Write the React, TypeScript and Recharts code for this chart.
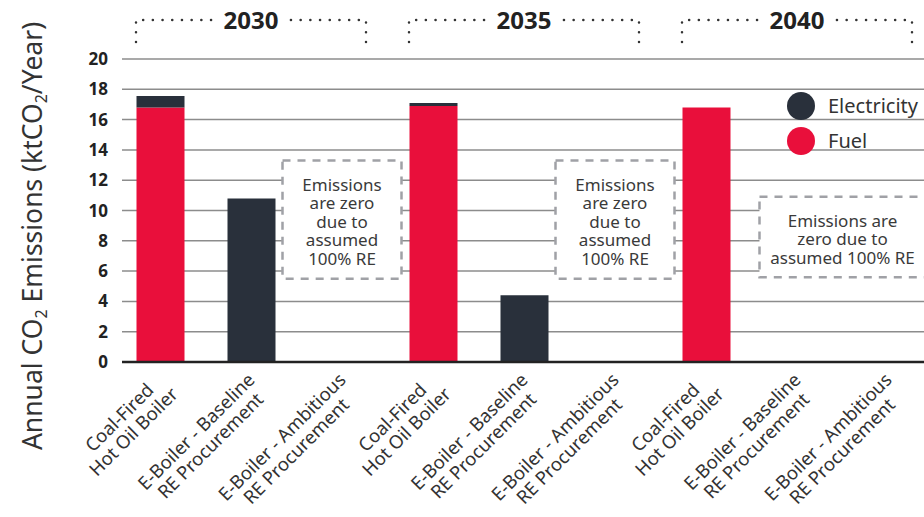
import React from "react";
import {
  BarChart,
  Bar,
  XAxis,
  YAxis,
  CartesianGrid,
  Legend,
  ReferenceArea,
  Label,
} from "recharts";

// categories (unique ids) and their two-line tick labels
const categories = [
  "2030-coal", "2030-base", "2030-amb",
  "2035-coal", "2035-base", "2035-amb",
  "2040-coal", "2040-base", "2040-amb",
];
const categoryLabels = [
  ["Coal-Fired", "Hot Oil Boiler"],
  ["E-Boiler - Baseline", "RE Procurement"],
  ["E-Boiler - Ambitious", "RE Procurement"],
  ["Coal-Fired", "Hot Oil Boiler"],
  ["E-Boiler - Baseline", "RE Procurement"],
  ["E-Boiler - Ambitious", "RE Procurement"],
  ["Coal-Fired", "Hot Oil Boiler"],
  ["E-Boiler - Baseline", "RE Procurement"],
  ["E-Boiler - Ambitious", "RE Procurement"],
];

// ktCO2 / year
const fuel = [16.8, 0, 0, 16.9, 0, 0, 16.8, 0, 0];
const electricity = [0.75, 10.8, 0, 0.2, 4.4, 0, 0, 0, 0];

const yTicks = [0, 2, 4, 6, 8, 10, 12, 14, 16, 18, 20];

// year brackets above the plot
const years = ["2030", "2035", "2040"];
const yearFirst = ["2030-coal", "2035-coal", "2040-coal"];
const yearLast = ["2030-amb", "2035-amb", "2040-amb"];

// "emissions are zero" notes
const noteFrom = ["2030-amb", "2035-amb", "2040-base"];
const noteTo = ["2030-amb", "2035-amb", "2040-amb"];
const noteLow = [5.5, 5.5, 5.6];
const noteHigh = [13.3, 13.3, 10.9];
const noteLines = [
  ["Emissions", "are zero", "due to", "assumed", "100% RE"],
  ["Emissions", "are zero", "due to", "assumed", "100% RE"],
  ["Emissions are", "zero due to", "assumed 100% RE"],
];

const data = categories.map((id, i) => ({
  id,
  fuel: fuel[i],
  electricity: electricity[i],
}));

const FUEL = "#E90F3B";
const ELEC = "#29303B";
const FONT = '"Noto Sans", "Open Sans", sans-serif';
const TICK_SIZE = 18.5;
const TICK_FONT = `400 ${TICK_SIZE}px "Noto Sans"`;
const YEAR_FONT = '700 24px "Noto Sans"';
const BAR_SIZE = 48;

let measureCtx: CanvasRenderingContext2D | null = null;
function textWidth(text: string, font: string) {
  if (!measureCtx) measureCtx = document.createElement("canvas").getContext("2d");
  if (!measureCtx) return text.length * 8;
  measureCtx.font = font;
  return measureCtx.measureText(text).width;
}

function CategoryTick(props: any) {
  const { x, y, payload } = props;
  const lines = categoryLabels[categories.indexOf(payload.value)] || [];
  const widest = Math.max(...lines.map((l) => textWidth(l, TICK_FONT)));
  const cx = -10 - widest / 2;
  return (
    <g transform={`translate(${x},${y}) rotate(-45)`}>
      <text
        x={cx}
        y={17}
        textAnchor="middle"
        fill="#333"
        fontSize={TICK_SIZE}
        fontFamily={FONT}
      >
        {lines.map((l, i) => (
          <tspan key={i} x={cx} dy={i === 0 ? 0 : 20}>
            {l}
          </tspan>
        ))}
      </text>
    </g>
  );
}

function YearBracket(props: any) {
  const { x, y, width, year } = props;
  const inset = (width / 3 - BAR_SIZE) / 2;
  const left = x + inset;
  const right = x + width - inset;
  const top = y - 39;
  const bottom = y - 17;
  const mid = (left + right) / 2;
  const tw = textWidth(year, YEAR_FONT);
  const dots = {
    fill: "none",
    stroke: "#333",
    strokeWidth: 2.5,
    strokeLinecap: "round" as const,
    strokeDasharray: "0.1 9.6",
  };
  return (
    <g>
      <path d={`M${left},${bottom} V${top} H${mid - tw / 2 - 7}`} {...dots} />
      <path d={`M${right},${bottom} V${top} H${mid + tw / 2 + 7}`} {...dots} />
      <text
        x={mid}
        y={top + 8.5}
        textAnchor="middle"
        fontSize={24}
        fontWeight={700}
        fill="#222"
        fontFamily={FONT}
      >
        {year}
      </text>
    </g>
  );
}

function NoteBox(props: any) {
  const { x, y, width, height, lines, single } = props;
  const grow = single ? 14 : -8;
  const left = x - grow;
  const w = width + grow * 2;
  const mid = left + w / 2;
  return (
    <g>
      <rect
        x={left}
        y={y}
        width={w}
        height={height}
        fill="#fff"
        stroke="#a0a1a6"
        strokeWidth={2.5}
        strokeDasharray="8 7"
      />
      <text
        x={mid}
        y={y + 30}
        textAnchor="middle"
        fontSize={17}
        fill="#3a3a3a"
        fontFamily={FONT}
      >
        {lines.map((l: string, i: number) => (
          <tspan key={i} x={mid} dy={i === 0 ? 0 : 18.5}>
            {l}
          </tspan>
        ))}
      </text>
    </g>
  );
}

function YTitle() {
  return (
    <text
      x={42}
      y={236}
      transform="rotate(-90, 42, 236)"
      textAnchor="middle"
      fontSize={26.5}
      fill="#333"
      fontFamily={FONT}
    >
      Annual CO
      <tspan fontSize={16} dy={5}>2</tspan>
      <tspan dy={-5}> Emissions (ktCO</tspan>
      <tspan fontSize={16} dy={5}>2</tspan>
      <tspan dy={-5}>/Year)</tspan>
    </text>
  );
}

function LegendContent(props: any) {
  const items = props.payload || [];
  return (
    <div style={{ fontFamily: FONT, fontSize: 20, color: "#333" }}>
      {items.map((it: any) => (
        <div
          key={it.value}
          style={{ display: "flex", alignItems: "center", height: 35 }}
        >
          <span
            style={{
              width: 28,
              height: 28,
              borderRadius: 14,
              background: it.color,
              marginRight: 13,
            }}
          />
          {it.value}
        </div>
      ))}
    </div>
  );
}

export default function App() {
  return (
    <div
      style={{
        position: "absolute",
        left: 0,
        top: 0,
        width: 924,
        height: 517,
        overflow: "hidden",
        background: "#fff",
      }}
    >
      <BarChart
        width={940}
        height={517}
        data={data}
        margin={{ top: 59, right: 6.5, bottom: 5, left: 0 }}
      >
        <CartesianGrid vertical={false} stroke="#8c8c8c" strokeWidth={1.5} />
        <XAxis
          dataKey="id"
          interval={0}
          height={150}
          padding={{ left: -7.5, right: 0 }}
          tickLine={false}
          tickSize={0}
          tickMargin={0}
          tick={<CategoryTick />}
          axisLine={{ stroke: "#222", strokeWidth: 2.5 }}
        />
        <YAxis
          width={122}
          domain={[0, 20]}
          ticks={yTicks}
          interval={0}
          axisLine={false}
          tickLine={false}
          tickSize={0}
          tickMargin={14}
          tick={{ fill: "#222", fontSize: 17, fontWeight: 700, fontFamily: FONT }}
        >
          <Label content={<YTitle />} />
        </YAxis>
        {years.map((yr, i) => (
          <ReferenceArea
            key={yr}
            x1={yearFirst[i]}
            x2={yearLast[i]}
            y1={0}
            y2={20}
            ifOverflow="visible"
            shape={(p: any) => <YearBracket {...p} year={yr} />}
          />
        ))}
        {noteLines.map((lines, i) => (
          <ReferenceArea
            key={i}
            x1={noteFrom[i]}
            x2={noteTo[i]}
            y1={noteLow[i]}
            y2={noteHigh[i]}
            ifOverflow="visible"
            shape={(p: any) => (
              <NoteBox {...p} lines={lines} single={noteFrom[i] === noteTo[i]} />
            )}
          />
        ))}
        <Bar
          dataKey="fuel"
          name="Fuel"
          stackId="a"
          fill={FUEL}
          barSize={BAR_SIZE}
          isAnimationActive={false}
        />
        <Bar
          dataKey="electricity"
          name="Electricity"
          stackId="a"
          fill={ELEC}
          barSize={BAR_SIZE}
          isAnimationActive={false}
        />
        <Legend
          layout="vertical"
          align="center"
          verticalAlign="middle"
          content={<LegendContent />}
          wrapperStyle={{ position: "absolute", top: 88, left: 787, width: 150 }}
        />
      </BarChart>
    </div>
  );
}
